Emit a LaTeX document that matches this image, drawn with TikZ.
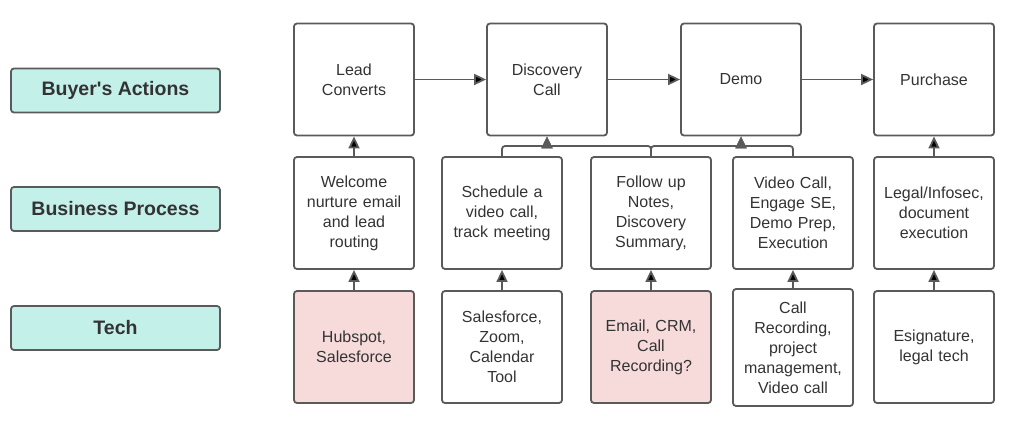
\documentclass[tikz,border=0pt]{standalone}
\usepackage{fontspec}
\setmainfont{Liberation Sans}
\usetikzlibrary{arrows.meta}
\definecolor{lineGray}{HTML}{5A5A5A}
\definecolor{textGray}{HTML}{333333}
\definecolor{rowCyan}{HTML}{C4F0EA}
\definecolor{techPink}{HTML}{F7DADA}
\begin{document}
\begin{tikzpicture}[x=1pt,y=-1pt,
  >={Triangle[length=12pt,width=11pt,sharp]},
  box/.style={shape=rectangle,draw=lineGray,line width=1.8pt,rounded corners=3pt,
    minimum width=120pt,minimum height=112pt,text width=112pt,align=center,
    text=textGray,font=\fontsize{16}{20}\selectfont},
  row/.style={shape=rectangle,draw=lineGray,line width=1.8pt,rounded corners=3pt,
    fill=rowCyan,minimum width=209pt,minimum height=44pt,text=textGray,
    font=\fontsize{19.5}{22}\selectfont\bfseries},
  link/.style={->,draw=lineGray,line width=1.8pt}]
  \useasboundingbox (0,0) rectangle (1024,433);
  % row labels
  \node[row] (buyer) at (115.5,90.5) {Buyer\textquotesingle s Actions};
  \node[row] (business) at (115.5,209) {Business Process};
  \node[row] (tech) at (115.5,328) {Tech};
  % buyer's actions
  \node[box] (lead) at (354,79.5) {Lead\\Converts};
  \node[box] (disc) at (547,79.5) {Discovery\\Call};
  \node[box] (demo) at (741,79.5) {Demo};
  \node[box] (purch) at (934,79.5) {Purchase};
  % business process
  \node[box] (welcome) at (354,213) {Welcome\\nurture email\\and lead\\routing};
  \node[box] (sched) at (502,213) {Schedule a\\video call,\\track meeting};
  \node[box] (follow) at (651,213) {Follow up\\Notes,\\Discovery\\Summary,};
  \node[box] (video) at (793,213) {Video Call,\\Engage SE,\\Demo Prep,\\Execution};
  \node[box] (legal) at (934,213) {Legal/Infosec,\\document\\execution};
  % tech
  \node[box,fill=techPink] (hub) at (354,347) {Hubspot,\\Salesforce};
  \node[box] (sales) at (502,347) {Salesforce,\\Zoom,\\Calendar\\Tool};
  \node[box,fill=techPink] (email) at (651,347) {Email, CRM,\\Call\\Recording?};
  \node[box,minimum height=117pt] (callrec) at (793,347.5) {Call\\Recording,\\project\\management,\\Video call};
  \node[box] (esig) at (934,347) {Esignature,\\legal tech};
  % junctions under the top row
  \coordinate (discIn) at (547,146);
  \coordinate (demoIn) at (741,146);
  % flow
  \path[link] (lead) edge (disc);
  \path[link] (disc) edge (demo);
  \path[link] (demo) edge (purch);
  \path[link] (welcome) edge (lead);
  \path[link] (legal) edge (purch);
  \draw[link,rounded corners=3pt] (sched.north) |- (discIn) -- (disc.south);
  \draw[link,rounded corners=3pt] (follow.north) |- (discIn) -- (disc.south);
  \draw[link,rounded corners=3pt] (follow.north) |- (demoIn) -- (demo.south);
  \draw[link,rounded corners=3pt] (video.north) |- (demoIn) -- (demo.south);
  \path[link] (hub) edge (welcome);
  \path[link] (sales) edge (sched);
  \path[link] (email) edge (follow);
  \path[link] (callrec) edge (video);
  \path[link] (esig) edge (legal);
\end{tikzpicture}
\end{document}
